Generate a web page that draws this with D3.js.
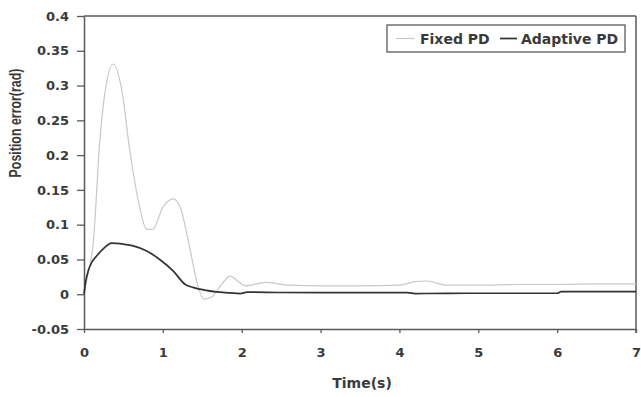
<!DOCTYPE html>
<html>
<head>
<meta charset="utf-8">
<script src="https://cdn.jsdelivr.net/npm/d3@7"></script>
<style>
  html, body { margin: 0; padding: 0; background: #ffffff; }
  svg { display: block; }
  text { font-family: "DejaVu Sans", sans-serif; font-weight: bold; fill: #3a3a3a; }
</style>
</head>
<body>
<svg id="chart" width="641" height="397"></svg>
<script>
// ---- data ----
const fixedT = [0, 0.03, 0.12, 0.2, 0.27, 0.37, 0.48, 0.58, 0.69, 0.79, 0.87, 1.0, 1.13, 1.22, 1.34, 1.45, 1.52, 1.62, 1.75, 1.85, 2.05, 2.3, 2.6, 3.0, 3.5, 4.0, 4.2, 4.35, 4.6, 5.0, 5.5, 6.0, 6.5, 7.0];
const fixedV = [0, 0.019, 0.077, 0.22, 0.293, 0.331, 0.293, 0.207, 0.134, 0.094, 0.093, 0.125, 0.137, 0.125, 0.067, 0.0095, -0.007, -0.004, 0.015, 0.026, 0.012, 0.017, 0.013, 0.012, 0.012, 0.013, 0.018, 0.019, 0.013, 0.013, 0.014, 0.014, 0.015, 0.015];
const adaptT = [0, 0.02, 0.055, 0.1, 0.16, 0.25, 0.35, 0.5, 0.625, 0.79, 0.96, 1.13, 1.28, 1.39, 1.55, 1.68, 1.85, 1.98, 2.07, 2.5, 3.0, 4.1, 4.2, 5.0, 6.0, 6.05, 7.0];
const adaptV = [0, 0.017, 0.034, 0.046, 0.055, 0.066, 0.0735, 0.072, 0.0696, 0.0624, 0.050, 0.0336, 0.0144, 0.0095, 0.0055, 0.0033, 0.002, 0.001, 0.003, 0.0025, 0.0023, 0.0023, 0.001, 0.0014, 0.0014, 0.0037, 0.0037];
const xTicks = [0, 1, 2, 3, 4, 5, 6, 7];
const yTicks = [-0.05, 0, 0.05, 0.1, 0.15, 0.2, 0.25, 0.3, 0.35, 0.4];
const yTickLabels = ["-0.05", "0", "0.05", "0.1", "0.15", "0.2", "0.25", "0.3", "0.35", "0.4"];
const seriesNames = ["Fixed PD", "Adaptive PD"];
const seriesColors = ["#c8c8c8", "#333333"];

// ---- layout ----
const svg = d3.select("#chart");
const pL = 84, pR = 636, pT = 16, pB = 329;
const x = d3.scaleLinear().domain([0, 7]).range([pL, pR]);
const y = d3.scaleLinear().domain([-0.05, 0.4]).range([pB, pT]);
const axisColor = "#5a5a5a";

// frame (top & right)
svg.append("line").attr("x1", pL).attr("x2", pR).attr("y1", pT).attr("y2", pT)
  .attr("stroke", axisColor).attr("stroke-width", 1.5);
svg.append("line").attr("x1", pR).attr("x2", pR).attr("y1", pT).attr("y2", pB + 4)
  .attr("stroke", axisColor).attr("stroke-width", 1.5);

// axes
const xAxis = svg.append("g").attr("transform", `translate(0,${pB})`)
  .call(d3.axisBottom(x).tickValues(xTicks).tickFormat(d3.format("d")).tickSizeInner(4).tickSizeOuter(0).tickPadding(15));
const yAxis = svg.append("g").attr("transform", `translate(${pL},0)`)
  .call(d3.axisLeft(y).tickValues(yTicks).tickFormat((d, i) => yTickLabels[i]).tickSizeInner(7).tickSizeOuter(0).tickPadding(8));
[xAxis, yAxis].forEach(g => {
  g.selectAll("path").attr("stroke", axisColor).attr("stroke-width", 1.5);
  g.selectAll("line").attr("stroke", axisColor).attr("stroke-width", 1.3);
  g.selectAll("text").style("font-size", "13px").style("font-family", "'DejaVu Sans', sans-serif")
    .style("font-weight", "bold").attr("fill", "#3a3a3a");
});

// lines
const line = d3.line().x(d => x(d[0])).y(d => y(d[1])).curve(d3.curveMonotoneX);
const fixedData = fixedT.map((t, i) => [t, fixedV[i]]);
const adaptData = adaptT.map((t, i) => [t, adaptV[i]]);
svg.append("path").datum(fixedData).attr("d", line).attr("fill", "none")
  .attr("stroke", seriesColors[0]).attr("stroke-width", 1.2);
svg.append("path").datum(adaptData).attr("d", line).attr("fill", "none")
  .attr("stroke", seriesColors[1]).attr("stroke-width", 1.7);

// axis titles
svg.append("text").attr("x", (pL + pR) / 2 + 2).attr("y", 388).attr("text-anchor", "middle")
  .style("font-size", "14px").text("Time(s)");
svg.append("text").attr("transform", "translate(20.5,123) scale(1.3,1) rotate(-90)").attr("text-anchor", "middle")
  .style("font-family", "'Liberation Sans', Arial, sans-serif")
  .style("font-size", "12.4px").text("Position error(rad)");

// legend
const lg = svg.append("g");
lg.append("rect").attr("x", 387).attr("y", 25).attr("width", 238).attr("height", 27)
  .attr("fill", "#fff").attr("stroke", axisColor).attr("stroke-width", 1.3);
lg.append("line").attr("x1", 396).attr("x2", 414).attr("y1", 38.5).attr("y2", 38.5)
  .attr("stroke", seriesColors[0]).attr("stroke-width", 1.2);
lg.append("text").attr("x", 420).attr("y", 43.5).style("font-size", "14px").text(seriesNames[0]);
lg.append("line").attr("x1", 500).attr("x2", 517).attr("y1", 38.5).attr("y2", 38.5)
  .attr("stroke", seriesColors[1]).attr("stroke-width", 1.7);
lg.append("text").attr("x", 521).attr("y", 43.5).style("font-size", "14px").text(seriesNames[1]);
</script>
</body>
</html>
